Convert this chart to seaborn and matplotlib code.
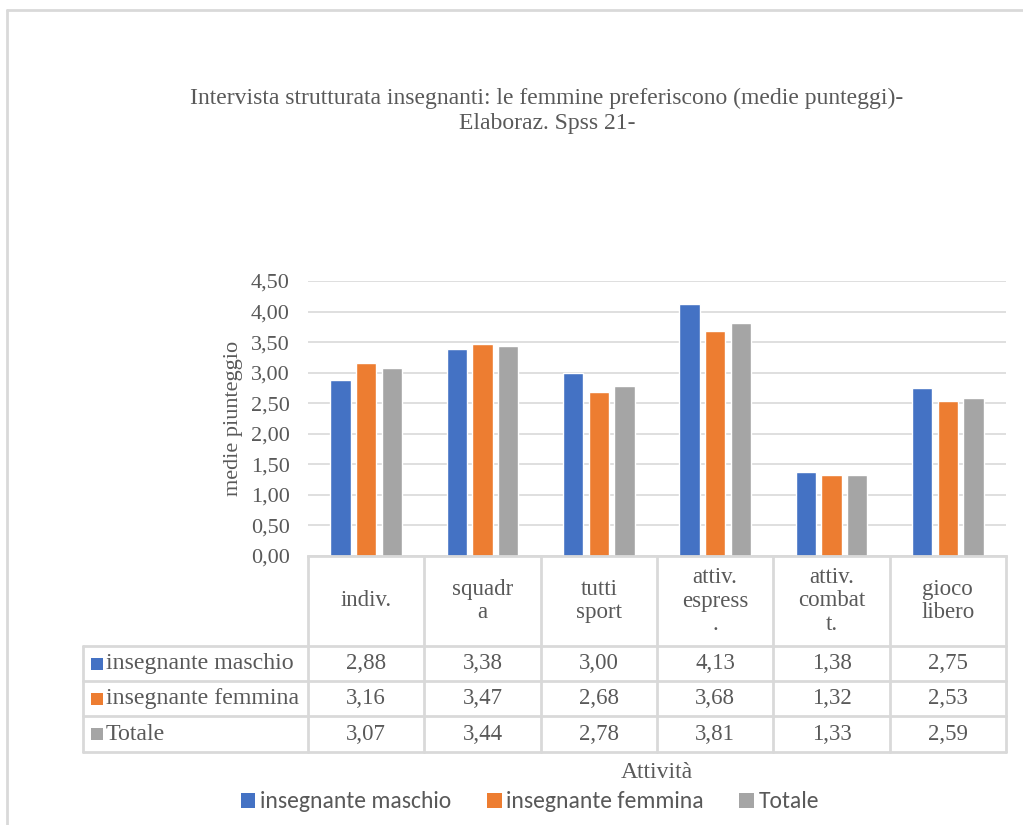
import matplotlib
matplotlib.use("Agg")
import matplotlib.pyplot as plt
import seaborn as sns
import pandas as pd
import numpy as np
from matplotlib.lines import Line2D
from matplotlib.patches import Rectangle
from matplotlib.transforms import blended_transform_factory
from matplotlib.ticker import FuncFormatter

categories = ["indiv.", "squadr\na", "tutti\nsport", "attiv.\nespress\n.", "attiv.\ncombat\nt.", "gioco\nlibero"]
series = ["insegnante maschio", "insegnante femmina", "Totale"]
maschio = [2.88, 3.38, 3.00, 4.13, 1.38, 2.75]
femmina = [3.16, 3.47, 2.68, 3.68, 1.32, 2.53]
totale = [3.07, 3.44, 2.78, 3.81, 1.33, 2.59]
colors = ["#4472C4", "#ED7D31", "#A5A5A5"]
yticks = [0, 0.5, 1.0, 1.5, 2.0, 2.5, 3.0, 3.5, 4.0, 4.5]

values = [maschio, femmina, totale]
df = pd.DataFrame({
    "cat": np.repeat([categories], 3, axis=0).ravel(),
    "serie": np.repeat(series, len(categories)),
    "val": np.concatenate(values),
})

sns.set_theme(style="white")
serif = ["Liberation Serif", "DejaVu Serif"]
sans = ["Carlito", "DejaVu Sans"]
plt.rcParams["font.family"] = serif
txt = "#595959"
grid = "#D9D9D9"

W, H = 1023, 825
fig = plt.figure(figsize=(W / 100, H / 100), dpi=100)

def fx(px):
    return px / W

def fy(py):
    return 1 - py / H

ax = fig.add_axes([fx(308), fy(556), fx(1006) - fx(308), fy(281) - fy(556)])
sns.barplot(data=df, x="cat", y="val", hue="serie", palette=colors, ax=ax,
            width=0.66, gap=0.2, saturation=1, legend=False, order=categories,
            hue_order=series)
ax.set_xlim(-0.5, len(categories) - 0.5)
ax.set_ylim(0, 4.5)
ax.set_yticks(yticks)
ax.yaxis.set_major_formatter(FuncFormatter(lambda v, p: f"{v:.2f}".replace(".", ",")))
ax.tick_params(axis="y", length=0, pad=13, labelsize=16, labelcolor=txt)
ax.set_xticks([])
ax.set_xlabel("")
ax.set_ylabel("medie piunteggio", fontsize=16, color=txt, labelpad=6)
ax.yaxis.grid(True, color=grid, linewidth=1.2)
ax.set_axisbelow(True)
for s in ["top", "right", "left"]:
    ax.spines[s].set_visible(False)
ax.spines["bottom"].set_color(grid)
ax.spines["bottom"].set_linewidth(2)

# data table
tr = blended_transform_factory(ax.transData, fig.transFigure)
col_edges = np.arange(len(categories) + 1) - 0.5
y_head_top, y_head_bot = fy(556), fy(646)
row_edges = [fy(646), fy(681), fy(716), fy(752)]
lw = 2
for xe in col_edges:
    fig.add_artist(Line2D([xe, xe], [y_head_top, row_edges[-1]], transform=tr, color=grid, lw=lw))
for ye in row_edges:
    fig.add_artist(Line2D([fx(83), fx(1006)], [ye, ye], transform=fig.transFigure, color=grid, lw=lw))
fig.add_artist(Line2D([fx(83), fx(83)], [row_edges[0], row_edges[-1]], transform=fig.transFigure, color=grid, lw=lw))

for i, c in enumerate(categories):
    fig.text(i, (y_head_top + y_head_bot) / 2, c, transform=tr, ha="center", va="center",
             fontsize=16.5, color=txt, linespacing=1.15)

for r, (name, vals, col) in enumerate(zip(series, values, colors)):
    yc = (row_edges[r] + row_edges[r + 1]) / 2
    fig.add_artist(Rectangle((fx(91), yc - 6 / H), 12 / W, 12 / H, transform=fig.transFigure,
                             facecolor=col, edgecolor="none"))
    fig.text(fx(106), yc, name, ha="left", va="center", fontsize=17.2, color=txt)
    for i, v in enumerate(vals):
        fig.text(i, yc, f"{v:.2f}".replace(".", ","), transform=tr, ha="center", va="center",
                 fontsize=16.5, color=txt)

# axis title
fig.text(fx(657), fy(772), "Attività", ha="center", va="center", fontsize=17, color=txt)

# chart title
fig.text(fx(547), fy(111), "Intervista strutturata insegnanti: le femmine preferiscono (medie punteggi)-\nElaboraz. Spss 21-",
         ha="center", va="center", fontsize=17, color=txt, linespacing=1.2)

# legend
handles = [Rectangle((0, 0), 1, 1, facecolor=c, edgecolor="none") for c in colors]
fig.legend(handles, series, loc="center", bbox_to_anchor=(fx(530), fy(802)), ncol=3,
           frameon=False, prop={"family": sans, "size": 17}, labelcolor=txt,
           handlelength=0.62, handleheight=0.62, handletextpad=0.2, columnspacing=1.5)

# outer frame
fig.add_artist(Line2D([fx(7), fx(1023)], [fy(10), fy(10)], transform=fig.transFigure, color=grid, lw=2))
fig.add_artist(Line2D([fx(7), fx(7)], [fy(10), 0], transform=fig.transFigure, color=grid, lw=2))

fig.savefig("out.png", dpi=100)
